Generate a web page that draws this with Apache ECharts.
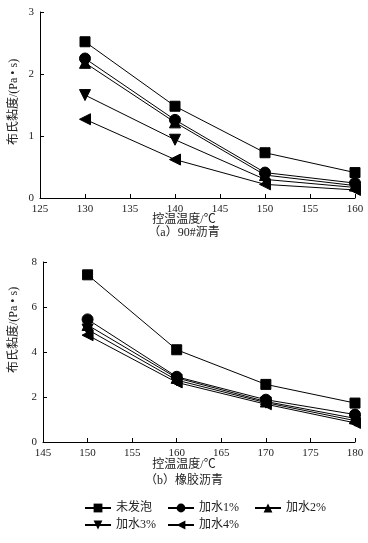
<!DOCTYPE html>
<html><head><meta charset="utf-8">
<script src="https://cdn.jsdelivr.net/npm/echarts@6/dist/echarts.min.js"></script>
<style>html,body{margin:0;padding:0;background:#fff}#c{width:368px;height:543px}</style>
</head><body><div id="c"></div>
<script>
var seriesNames = ['未发泡', '加水1%', '加水2%', '加水3%', '加水4%'];
var tempsA = [130, 140, 150, 160];
var tempsB = [150, 160, 170, 180];
var valuesA = {
  '未发泡': [2.52, 1.48, 0.73, 0.41],
  '加水1%': [2.25, 1.26, 0.41, 0.24],
  '加水2%': [2.18, 1.22, 0.37, 0.20],
  '加水3%': [1.66, 0.94, 0.30, 0.17],
  '加水4%': [1.27, 0.62, 0.22, 0.13]
};
var valuesB = {
  '未发泡': [7.43, 4.10, 2.56, 1.73],
  '加水1%': [5.45, 2.90, 1.88, 1.22],
  '加水2%': [5.20, 2.85, 1.80, 1.05],
  '加水3%': [5.00, 2.75, 1.75, 0.95],
  '加水4%': [4.75, 2.65, 1.68, 0.85]
};
var xTicksA = [125, 160, 5];
var xTicksB = [145, 180, 5];
var yTicksA = [0, 3, 1];
var yTicksB = [0, 8, 2];

var symbols = ['rect', 'circle', 'triangle', 'triangle', 'triangle'];
var rotates = [0, 0, 0, 180, 90];
var sizes = [10, 11, 11, 11, 11];
var serif = '"Liberation Serif","Noto Sans CJK SC",serif';
var txt = {color: '#222', fontFamily: serif, fontSize: 11};

function xAxis(idx, t) {
  return {gridIndex: idx, type: 'value', min: t[0], max: t[1], interval: t[2],
    axisLine: {lineStyle: {color: '#000', width: 1}},
    axisTick: {inside: true, length: 4, lineStyle: {color: '#000'}},
    splitLine: {show: false},
    axisLabel: Object.assign({margin: 6}, txt)};
}
function yAxis(idx, t) {
  return {gridIndex: idx, type: 'value', min: t[0], max: t[1], interval: t[2],
    axisLine: {show: true, lineStyle: {color: '#000', width: 1}},
    axisTick: {show: true, inside: true, length: 4, lineStyle: {color: '#000'}},
    splitLine: {show: false},
    axisLabel: Object.assign({margin: 6}, txt)};
}

var series = [];
seriesNames.forEach(function (n, i) {
  [[0, tempsA, valuesA], [1, tempsB, valuesB]].forEach(function (g) {
    series.push({
      name: n, type: 'line', xAxisIndex: g[0], yAxisIndex: g[0],
      data: g[1].map(function (x, k) { return [x, g[2][n][k]]; }),
      symbol: symbols[i], symbolRotate: rotates[i], symbolSize: sizes[i],
      showAllSymbol: true,
      lineStyle: {color: '#000', width: 1},
      itemStyle: {color: '#000', borderColor: '#000'},
      emphasis: {disabled: true}, animation: false, z: 10 - i
    });
  });
});

var legendPos = [[79, 497], [162, 497], [249, 497], [79, 514], [162, 514]];
var legends = seriesNames.map(function (n, i) {
  return {data: [n], left: legendPos[i][0], top: legendPos[i][1],
    itemWidth: 26, itemHeight: 11, itemGap: 6, selectedMode: false,
    textStyle: {color: '#222', fontFamily: serif, fontSize: 12}};
});

var chart = echarts.init(document.getElementById('c'), null, {renderer: 'canvas'});
chart.setOption({
  animation: false,
  backgroundColor: '#fff',
  grid: [
    {left: 40, right: 13, top: 12, height: 186},
    {left: 43, right: 13, top: 262, height: 180}
  ],
  xAxis: [xAxis(0, xTicksA), xAxis(1, xTicksB)],
  yAxis: [yAxis(0, yTicksA), yAxis(1, yTicksB)],
  legend: legends,
  graphic: [
    {type: 'text', left: 'center', top: 214, style: {text: '控温温度/℃', fill: '#222', font: '12px ' + serif}, x: 8},
    {type: 'text', left: 'center', top: 227, style: {text: '（a）90#沥青', fill: '#222', font: '12px ' + serif}, x: 8},
    {type: 'text', left: 'center', top: 459, style: {text: '控温温度/℃', fill: '#222', font: '12px ' + serif}},
    {type: 'text', left: 'center', top: 475, style: {text: '（b）橡胶沥青', fill: '#222', font: '12px ' + serif}},
    {type: 'text', x: 8, y: 145, rotation: Math.PI / 2, style: {text: '布氏黏度/(Pa • s)', fill: '#222', font: '12px ' + serif}},
    {type: 'text', x: 8, y: 373, rotation: Math.PI / 2, style: {text: '布氏黏度/(Pa • s)', fill: '#222', font: '12px ' + serif}}
  ],
  series: series
});
</script>
</body></html>
